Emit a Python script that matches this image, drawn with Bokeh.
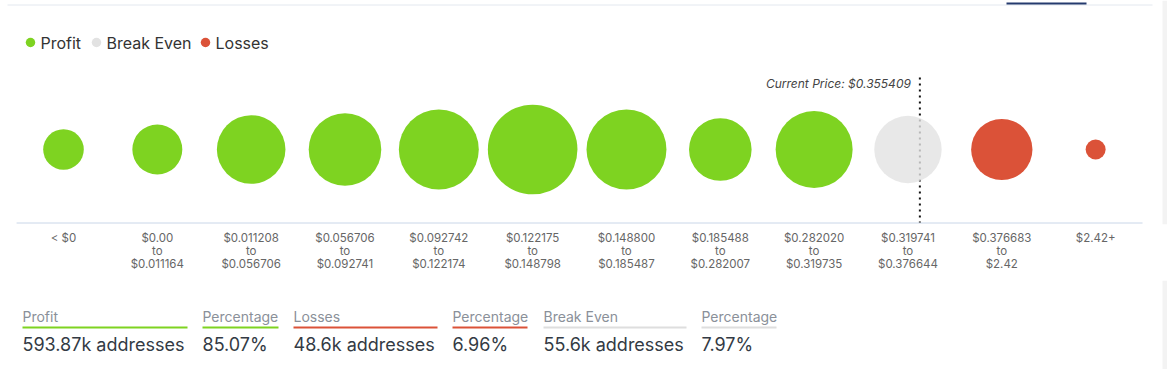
import math
from bokeh.plotting import figure
from bokeh.models import ColumnDataSource, Range1d, FixedTicker, LinearAxis
from bokeh.layouts import column
from bokeh.embed import file_html
from bokeh.resources import INLINE
from bokeh.core.properties import value

# ---------------- data ----------------
tick_labels = [
    "< $0",
    "$0.00\nto\n$0.011164",
    "$0.011208\nto\n$0.056706",
    "$0.056706\nto\n$0.092741",
    "$0.092742\nto\n$0.122174",
    "$0.122175\nto\n$0.148798",
    "$0.148800\nto\n$0.185487",
    "$0.185488\nto\n$0.282007",
    "$0.282020\nto\n$0.319735",
    "$0.319741\nto\n$0.376644",
    "$0.376683\nto\n$2.42",
    "$2.42+",
]
bucket_low = [None, 0.0, 0.011208, 0.056706, 0.092742, 0.122175, 0.148800,
              0.185488, 0.282020, 0.319741, 0.376683, 2.42]
bucket_high = [0.0, 0.011164, 0.056706, 0.092741, 0.122174, 0.148798, 0.185487,
               0.282007, 0.319735, 0.376644, 2.42, None]
addresses_k = [20.2, 30.6, 57.6, 64.5, 78.3, 98.3, 78.3, 48.0, 72.6, 55.6, 46.1, 4.9]
bucket_status = ["Profit"] * 9 + ["Break Even"] + ["Losses"] * 2
current_price = 0.355409

statuses = ["Profit", "Break Even", "Losses"]
status_colors = ["#7ed321", "#e2e2e2", "#db5238"]
underline_colors = ["#7ed321", "#7ed321", "#db5238", "#db5238", "#dedede", "#dedede"]

summary_labels = ["Profit", "Percentage", "Losses", "Percentage", "Break Even", "Percentage"]
summary_values = ["593.87k addresses", "85.07%", "48.6k addresses", "6.96%",
                  "55.6k addresses", "7.97%"]

# ---------------- layout constants ----------------
W = 1167
H1 = 280
H2 = 89
FRAME_H = 224
FONT = "Inter"
BAND = 93.83            # px per category
FIRST_CENTER = 63       # px of first category centre
BUBBLE_Y = 149
AREA_PER_K = 0.049      # px^2 per thousand addresses (bubble area scale)

n = len(tick_labels)
color_of = dict(zip(statuses, status_colors))


def base_fig(height, x_range, y_range, border_bottom):
    f = figure(width=W, height=height, x_range=x_range, y_range=y_range,
               x_axis_type=None, y_axis_type=None,
               toolbar_location=None, output_backend="svg",
               min_border_left=0, min_border_right=0, min_border_top=0,
               min_border_bottom=border_bottom)
    f.outline_line_color = None
    f.background_fill_color = "white"
    f.border_fill_color = "white"
    f.xgrid.visible = False
    f.ygrid.visible = False
    return f


# ---------------- main bubble figure ----------------
x_start = -FIRST_CENTER / BAND
p = base_fig(H1, Range1d(x_start, x_start + W / BAND), Range1d(start=FRAME_H, end=0),
             H1 - FRAME_H)
p.extra_x_ranges = {"px": Range1d(0, W)}

# top rule + tab indicator + right edge shade (decoration)
p.quad(left=[1162], right=[W], top=[0], bottom=[FRAME_H], fill_color="#f3f3f3",
       line_color=None, x_range_name="px")
p.segment(x0=[7], y0=[4.5], x1=[1152], y1=[4.5], line_color="#e3e8ef", line_width=1,
          x_range_name="px")
p.segment(x0=[1006], y0=[3], x1=[1086], y1=[3], line_color="#253a6e", line_width=2,
          x_range_name="px")

# baseline
p.segment(x0=[-0.5], y0=[222.5], x1=[n - 0.5], y1=[222.5], line_color="#c9d6e8",
          line_width=1)

# current price marker
for i in range(n):
    lo, hi = bucket_low[i], bucket_high[i]
    if lo is not None and hi is not None and lo <= current_price <= hi:
        price_x = i - 0.5 + (current_price - lo) / (hi - lo)
        break
p.segment(x0=[price_x], y0=[77], x1=[price_x], y1=[222], line_color="#111111",
          line_width=2, line_dash="2 4")
p.text(x=[price_x], y=[82.5], text=["Current Price: $%.6f" % current_price],
       x_offset=-9, text_align="right", text_baseline="middle",
       text_font=value(FONT), text_font_style="italic", text_font_size="12px",
       text_color="#444444")

# bubbles
src = ColumnDataSource(dict(
    x=list(range(n)),
    y=[BUBBLE_Y] * n,
    size=[2 * math.sqrt(v / AREA_PER_K) for v in addresses_k],
    color=[color_of[s] for s in bucket_status],
    alpha=[0.8 if s == "Break Even" else 1.0 for s in bucket_status],
    addresses=addresses_k,
))
p.scatter(x="x", y="y", size="size", source=src, fill_color="color",
          fill_alpha="alpha", line_color=None, marker="circle")

# legend (manual)
legend_x = [30, 96, 205]
p.scatter(x=legend_x, y=[42] * 3, size=9.5, marker="circle", color=status_colors,
          line_color=None, x_range_name="px")
p.text(x=[lx + 10 for lx in legend_x], y=[42] * 3, text=statuses,
       text_baseline="middle", text_font=value(FONT), text_font_size="16px",
       text_color="#333333", x_range_name="px")

# category axis
xaxis = LinearAxis(ticker=FixedTicker(ticks=list(range(n))),
                   major_label_overrides={i: lbl for i, lbl in enumerate(tick_labels)})
xaxis.axis_line_color = None
xaxis.major_tick_line_color = None
xaxis.minor_tick_line_color = None
xaxis.major_tick_out = 0
xaxis.major_tick_in = 0
xaxis.major_label_standoff = 6
xaxis.major_label_text_font = FONT
xaxis.major_label_text_font_size = "11.5px"
xaxis.major_label_text_line_height = 0.95
xaxis.major_label_text_color = "#666666"
p.add_layout(xaxis, "below")

# ---------------- summary figure ----------------
col_x = [22, 202, 293, 452, 543, 701]
col_w = [165, 76, 144, 75, 143, 75]

q = base_fig(H2, Range1d(0, W), Range1d(start=H1 + H2, end=H1), 0)
q.quad(left=[1162], right=[W], top=[H1], bottom=[H1 + H2], fill_color="#f3f3f3",
       line_color=None)
q.text(x=col_x, y=[316] * 6, text=summary_labels, text_baseline="middle",
       text_font=value(FONT), text_font_size="14px", text_color="#8a9099")
q.segment(x0=col_x, y0=[327] * 6, x1=[a + b for a, b in zip(col_x, col_w)], y1=[327] * 6,
          line_color=underline_colors, line_width=2)
q.text(x=col_x, y=[344] * 6, text=summary_values, text_baseline="middle",
       text_font=value(FONT), text_font_size="18px", text_color="#333a44")

layout = column(p, q)
open("out.html", "w").write(file_html(layout, INLINE))
